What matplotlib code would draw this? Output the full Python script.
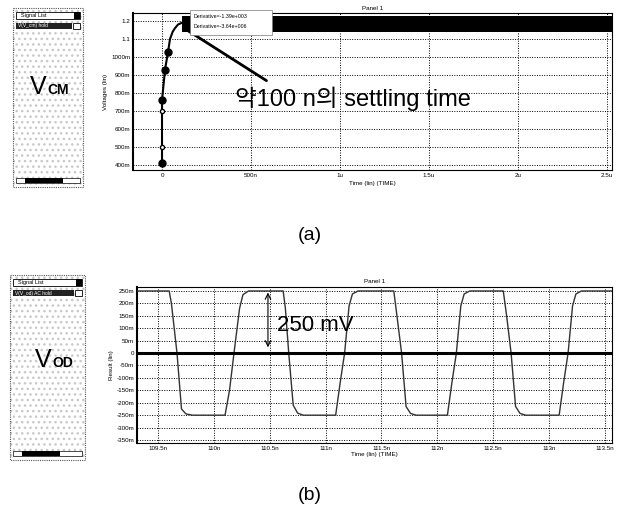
import matplotlib.pyplot as plt
from matplotlib.patches import Rectangle

plt.rcParams['font.family'] = ['Liberation Sans', 'Noto Sans CJK KR', 'DejaVu Sans']

# (a) V_CM settling -- time in ns, voltage in V
vcm_t = [0, 0, 0, 0, 17, 34, 45, 60, 73, 90, 112]
vcm_v = [0.41, 0.50, 0.70, 0.76, 0.93, 1.03, 1.10, 1.14, 1.16, 1.18, 1.19]
vcm_big = [0, 3, 4, 5]
vcm_small = [1, 2]
ripple_t = [112, 2530]
ripple_lo = [1.14, 1.14]
ripple_hi = [1.23, 1.23]
vcm_yticks = [0.4, 0.5, 0.6, 0.7, 0.8, 0.9, 1.0, 1.1, 1.2]
vcm_ylabels = ['400m', '500m', '600m', '700m', '800m', '900m', '1000m', '1.1', '1.2']
vcm_xticks = [0, 500, 1000, 1500, 2000, 2500]
vcm_xlabels = ['0', '500n', '1u', '1.5u', '2u', '2.5u']

# (b) V_OD -- time in ns, voltage in mV
vod_t = [109.31, 109.60, 109.62, 109.67, 109.71, 109.75, 109.81,
         110.10, 110.14, 110.18, 110.23, 110.26, 110.31,
         110.62, 110.64, 110.67, 110.71, 110.75, 110.80,
         111.09, 111.13, 111.17, 111.21, 111.24, 111.29,
         111.61, 111.63, 111.68, 111.72, 111.76, 111.81,
         112.09, 112.13, 112.17, 112.21, 112.24, 112.29,
         112.59, 112.62, 112.66, 112.70, 112.74, 112.79,
         113.09, 113.13, 113.17, 113.21, 113.24, 113.29, 113.56]
vod_v = [250, 250, 200, 0, -225, -245, -250,
         -250, -150, 0, 180, 235, 250,
         250, 180, 0, -210, -242, -250,
         -250, -120, 0, 190, 238, 250,
         250, 180, 0, -215, -243, -250,
         -250, -120, 0, 190, 238, 250,
         250, 150, 0, -215, -243, -250,
         -250, -120, 0, 190, 238, 250, 250]
vod_yticks = [250, 200, 150, 100, 50, 0, -50, -100, -150, -200, -250, -300, -350]
vod_ylabels = ['250m', '200m', '150m', '100m', '50m', '0', '-50m', '-100m',
               '-150m', '-200m', '-250m', '-300m', '-350m']
vod_xticks = [109.5, 110, 110.5, 111, 111.5, 112, 112.5, 113, 113.5]
vod_xlabels = ['109.5n', '110n', '110.5n', '111n', '111.5n', '112n', '112.5n', '113n', '113.5n']

W, H = 617, 520
fig = plt.figure(figsize=(W / 100, H / 100), dpi=100)


def box(x0, y0, x1, y1):
    return [x0 / W, 1 - y1 / H, (x1 - x0) / W, (y1 - y0) / H]


def style(ax, xt, xl, yt, yl):
    ax.set_xticks(xt)
    ax.set_xticklabels(xl)
    ax.set_yticks(yt)
    ax.set_yticklabels(yl)
    ax.tick_params(labelsize=4.5, length=0, pad=2)
    ax.grid(True, color='black', linestyle=(0, (1, 1.5)), linewidth=0.7)
    for s in ax.spines.values():
        s.set_linewidth(0.8)
    ax.spines['left'].set_linewidth(1.5)


# ---- (a)
ax1 = fig.add_axes(box(133, 13, 612, 170))
ax1.plot(vcm_t, vcm_v, color='black', lw=1.5, zorder=3)
ax1.plot([vcm_t[i] for i in vcm_big], [vcm_v[i] for i in vcm_big], 'o',
         color='black', ms=5, zorder=4)
ax1.plot([vcm_t[i] for i in vcm_small], [vcm_v[i] for i in vcm_small], 'o',
         mfc='white', mec='black', ms=3, zorder=4)
ax1.fill_between(ripple_t, ripple_lo, ripple_hi, color='black', lw=0, zorder=3)
ax1.set_xlim(-163, 2528)
ax1.set_ylim(0.372, 1.244)
style(ax1, vcm_xticks, vcm_xlabels, vcm_yticks, vcm_ylabels)
ax1.set_ylabel('Voltages (lin)', fontsize=4.5, labelpad=2)
ax1.set_xlabel('Time (lin) (TIME)', fontsize=4.5, labelpad=2)
ax1.set_title('Panel 1', fontsize=4.5, pad=2)
ax1.annotate('', xy=(115, 1.165), xytext=(600, 0.86),
             arrowprops=dict(arrowstyle='-', lw=2, color='black'), zorder=6)
ax1.text(410, 0.767, '약100 n의 settling time', fontsize=17, va='center', zorder=6)

# ---- (b)
ax2 = fig.add_axes(box(137, 287, 612, 443))
ax2.plot(vod_t, vod_v, color='#333333', lw=1, zorder=3)
ax2.axhline(0, color='black', lw=2.2, zorder=4)
ax2.set_xlim(109.312, 113.563)
ax2.set_ylim(-362, 266)
style(ax2, vod_xticks, vod_xlabels, vod_yticks, vod_ylabels)
ax2.set_ylabel('Result (lin)', fontsize=4.5, labelpad=2)
ax2.set_xlabel('Time (lin) (TIME)', fontsize=4.5, labelpad=1)
ax2.set_title('Panel 1', fontsize=4.5, pad=3)
ax2.annotate('', xy=(110.484, 255), xytext=(110.484, 12),
             arrowprops=dict(arrowstyle='<->', lw=0.8, color='black'), zorder=6)
ax2.text(110.565, 113, '250 mV', fontsize=16, va='center', zorder=6)

# ---- decorations in pixel space (signal list boxes, captions, cursor box)
ov = fig.add_axes([0, 0, 1, 1], zorder=10)
ov.set_xlim(0, W)
ov.set_ylim(H, 0)
ov.axis('off')
ov.patch.set_alpha(0)


def signal_list(x0, y0, x1, y1, name, sub, vx, vy):
    ov.add_patch(Rectangle((x0, y0), x1 - x0, y1 - y0, facecolor='white',
                           edgecolor='#c8c8c8', lw=0, hatch='...'))
    ov.add_patch(Rectangle((x0, y0), x1 - x0, y1 - y0, facecolor='none',
                           edgecolor='#555555', lw=0.8, linestyle=(0, (1, 1))))
    ov.add_patch(Rectangle((x0 + 3, y0 + 4), x1 - x0 - 6, 7, facecolor='white',
                           edgecolor='black', lw=0.6))
    ov.add_patch(Rectangle((x1 - 9, y0 + 4), 6, 7, facecolor='black', lw=0))
    ov.text(x0 + 8, y0 + 7.5, 'Signal List', fontsize=4, va='center')
    ov.add_patch(Rectangle((x0 + 3, y0 + 15), x1 - x0 - 14, 6, facecolor='#222222', lw=0))
    ov.text(x0 + 5, y0 + 18, name, fontsize=3.5, va='center', color='white')
    ov.add_patch(Rectangle((x1 - 10, y0 + 15), 7, 6, facecolor='white',
                           edgecolor='black', lw=0.6))
    ov.add_patch(Rectangle((x0 + 3, y1 - 9), x1 - x0 - 6, 5, facecolor='white',
                           edgecolor='black', lw=0.5))
    ov.add_patch(Rectangle((x0 + 12, y1 - 9), 38, 5, facecolor='black', lw=0))
    ov.text(vx, vy, 'V', fontsize=18, va='baseline')
    ov.text(vx + 17, vy, sub, fontsize=10, va='baseline', fontweight='bold')


signal_list(13, 8, 83, 187, 'V(V_cm) hold', 'CM', 30, 94)
signal_list(10, 275, 85, 460, 'V(V_od) AC hold', 'OD', 35, 367)

ov.add_patch(Rectangle((190, 10), 82, 25, facecolor='white', edgecolor='#777777', lw=0.5))
ov.text(194, 17, 'Derivative=-1.39e+003', fontsize=3.8, va='center')
ov.text(194, 26, 'Derivative=-3.64e+006', fontsize=3.8, va='center')

ov.text(310, 235, '(a)', fontsize=14, ha='center', va='center')
ov.text(310, 495, '(b)', fontsize=14, ha='center', va='center')

fig.savefig('out.png', dpi=100)
